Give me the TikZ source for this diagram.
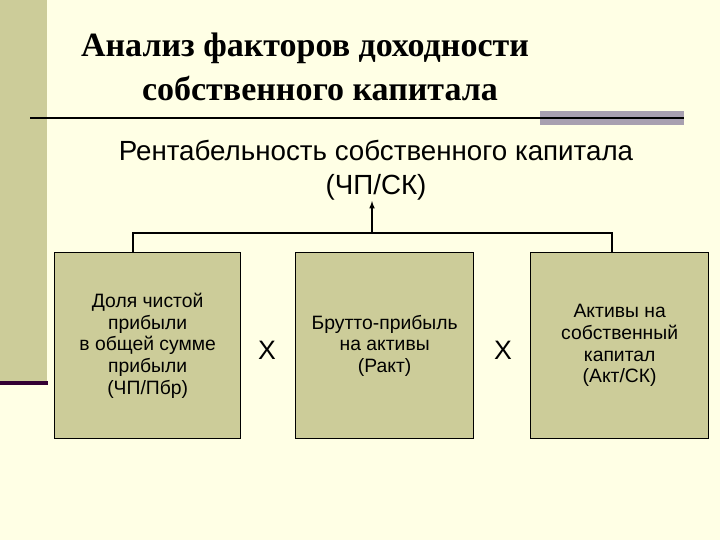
\documentclass[tikz,border=0pt]{standalone}
\usepackage{fontspec}
\setmainfont{Liberation Serif}
\setsansfont{Liberation Sans}
\begin{document}
\begin{tikzpicture}[x=0.75pt,y=-0.75pt,
  box/.style={draw=black,line width=1pt,fill=boxc,minimum width=178*0.75pt,minimum height=186*0.75pt,anchor=north west,inner sep=0pt,font=\sffamily\fontsize{14.5}{16.2}\selectfont,align=center,text=black},
  conn/.style={draw=black,line width=0.9pt}]
\definecolor{bg}{HTML}{FFFFE5}
\definecolor{barc}{HTML}{CCCC99}
\definecolor{boxc}{HTML}{CCCC99}
\definecolor{greyc}{HTML}{A8A0B0}
\definecolor{purp}{HTML}{330033}
\fill[bg] (0,0) rectangle (720,540);
\useasboundingbox (0,0) rectangle (720,540);
\fill[barc] (0,0) rectangle (47,381);
\fill[purp] (0,381) rectangle (48,385);
\fill[greyc] (540,111) rectangle (684,125);
\draw[line width=1.6pt] (30,118) -- (684,118);
\node[font=\bfseries\fontsize{25.5}{30}\selectfont] (t1) at (305,48) {Анализ факторов доходности};
\node[font=\bfseries\fontsize{25.5}{30}\selectfont] (t2) at (320,88) {собственного капитала};
\node[font=\sffamily\fontsize{20.8}{24}\selectfont] (s1) at (376,150) {Рентабельность собственного капитала};
\node[font=\sffamily\fontsize{20.8}{24}\selectfont,inner sep=1pt] (s2) at (376,187) {(ЧП/СК)};
\node[box,minimum width=186*0.75pt] (b1) at (54,252) {Доля чистой\\прибыли\\в общей сумме\\прибыли\\(ЧП/Пбр)};
\node[box] (b2) at (295,252) {Брутто-прибыль\\на активы\\(Ракт)};
\node[box] (b3) at (530,252) {Активы на\\собственный\\капитал\\(Акт/СК)};
\node[font=\sffamily\fontsize{20}{24}\selectfont] (x1) at (267,350) {Х};
\node[font=\sffamily\fontsize{20}{24}\selectfont] (x2) at (503,350) {Х};
\coordinate (j) at (372,233);
\coordinate (a) at (372,201);
\draw[conn] ([xshift=79*0.75pt]b1.north west) |- (j) -| ([xshift=82*0.75pt]b3.north west);
\draw[conn,-latex] (j) -- (a);
\end{tikzpicture}
\end{document}
